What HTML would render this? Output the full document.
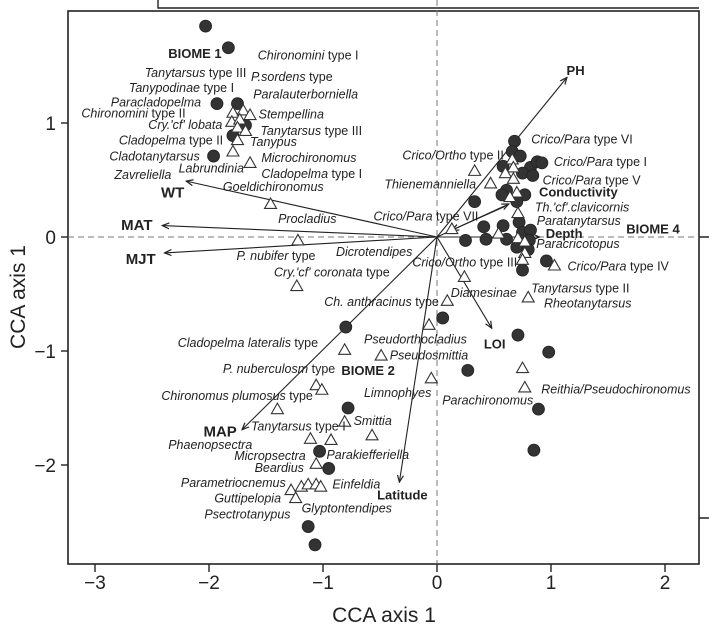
<!DOCTYPE html>
<html><head><meta charset="utf-8"><style>
body{margin:0;background:#fff}
svg{display:block;font-family:"Liberation Sans",sans-serif}
.lb{font-size:12.5px;fill:#222}
.bd{font-size:13px;font-weight:bold;fill:#222}
.tk{font-size:19px;fill:#222}
</style></head><body>
<svg id="c" width="709" height="630" viewBox="0 0 709 630">
<defs><marker id="ah" markerWidth="8" markerHeight="8" refX="7" refY="4" orient="auto" markerUnits="userSpaceOnUse"><path d="M0,1 L7,4 L0,7" fill="none" stroke="#222" stroke-width="1.2"/></marker></defs>
</svg>
<script>
const circX=[-2.03,-1.83,-1.93,-1.75,-1.68,-1.79,-1.96,0.68,0.66,0.73,0.82,0.88,0.92,0.58,0.75,0.84,0.61,0.57,0.77,0.70,0.33,0.41,0.58,0.25,0.43,0.61,0.72,0.75,0.82,0.81,0.70,0.80,0.75,0.96,0.05,-0.80,0.71,0.98,0.27,-0.78,0.89,0.85,-1.03,-0.95,-1.13,-1.07];
const circY=[1.85,1.66,1.17,1.17,0.98,0.89,0.71,0.84,0.75,0.71,0.61,0.66,0.65,0.62,0.56,0.54,0.41,0.37,0.37,0.31,0.31,0.09,0.10,-0.03,-0.02,-0.02,0.13,0.04,0.06,-0.03,-0.09,-0.11,-0.29,-0.21,-0.71,-0.79,-0.86,-1.01,-1.17,-1.50,-1.51,-1.87,-1.88,-2.03,-2.54,-2.70];
const triX=[-1.79,-1.70,-1.64,-1.80,-1.73,-1.75,-1.68,-1.75,-1.79,-1.64,-1.46,-1.22,-1.23,0.09,0.24,-0.07,-0.81,-0.49,-0.05,-1.06,-1.01,-1.40,-0.81,-0.57,-1.11,-0.93,-1.06,-1.28,-1.19,-1.13,-1.06,-1.02,-1.24,0.33,0.47,0.13,0.54,0.75,0.77,0.80,1.03,0.66,0.67,0.60,0.67,0.70,0.64,0.71,0.71,0.77,0.77,0.75];
const triY=[1.09,1.11,1.07,1.01,1.03,0.96,0.93,0.85,0.75,0.65,0.29,-0.03,-0.43,-0.56,-0.35,-0.77,-0.99,-1.04,-1.24,-1.30,-1.34,-1.51,-1.62,-1.74,-1.77,-1.78,-1.99,-2.22,-2.19,-2.17,-2.17,-2.19,-2.29,0.58,0.47,0.07,0.03,-1.15,-1.32,-0.53,-0.25,0.68,0.61,0.56,0.51,0.39,0.35,0.21,-0.01,-0.04,-0.14,-0.20];
const arrNames=["WT","MAT","MJT","PH","Conductivity","Depth","LOI","Latitude","MAP"];
const arrX=[-2.20,-2.41,-2.39,1.14,0.63,0.90,0.48,-0.33,-1.71];
const arrY=[0.49,0.10,-0.14,1.40,0.29,0.0,-0.80,-2.15,-1.69];
const xTicks=[-3,-2,-1,0,1,2];
const yTicks=[1,0,-1,-2];
const X0=437,Y0=237,U=114;
const sx=v=>X0+v*U, sy=v=>Y0-v*U;
const svg=document.getElementById('c'),NS="http://www.w3.org/2000/svg";
function mk(t,a,p){const e=document.createElementNS(NS,t);for(const k in a)e.setAttribute(k,a[k]);(p||svg).appendChild(e);return e;}
let e;
e=mk('rect',{x:68,y:11,width:631,height:553,fill:'none',stroke:'#222','stroke-width':1.6});


e=mk('path',{d:'M158,0 V8 H699 M699,237 H709 M699,518 H709',fill:'none',stroke:'#222','stroke-width':1.4});


e=mk('line',{x1:sx(0),y1:0,x2:sx(0),y2:564,stroke:'#777','stroke-dasharray':'6,4','stroke-width':1});


e=mk('line',{x1:68,y1:sy(0),x2:699,y2:sy(0),stroke:'#777','stroke-dasharray':'6,4','stroke-width':1});


xTicks.forEach(v=>{
 e=mk('line',{x1:sx(v),y1:564,x2:sx(v),y2:572,stroke:'#222','stroke-width':1.4});
 
 
 e=mk('text',{x:sx(v),y:589,'text-anchor':'middle',class:'tk'});e.textContent=(v<0?'\u2212'+(-v):''+v);
 
 
});
yTicks.forEach(v=>{
 e=mk('line',{x1:61,y1:sy(v),x2:68,y2:sy(v),stroke:'#222','stroke-width':1.4});
 
 
 e=mk('text',{x:56,y:sy(v)+7,'text-anchor':'end',class:'tk'});e.textContent=(v<0?'\u2212'+(-v):''+v);
 
 
});
e=mk('text',{x:384,y:622,'text-anchor':'middle',style:'font-size:21px;fill:#222'});e.textContent='CCA axis 1';


e=mk('text',{x:0,y:0,'text-anchor':'middle',transform:'translate(25,297) rotate(-90)',style:'font-size:21px;fill:#222'});e.textContent='CCA axis 1';


arrNames.forEach((n,i)=>{
 e=mk('line',{x1:sx(0),y1:sy(0),x2:sx(arrX[i]),y2:sy(arrY[i]),stroke:'#222','stroke-width':1.1,'marker-end':'url(#ah)'});
 
 
});
e=mk('line',{x1:sx(0.60),y1:sy(0.27),x2:sx(0.13),y2:sy(0.06),stroke:'#222','stroke-width':1.1,'marker-end':'url(#ah)'});


circX.forEach((v,i)=>{
 e=mk('circle',{cx:sx(v),cy:sy(circY[i]),r:6,fill:'#333',stroke:'#222','stroke-width':0.8});
 
 
});
triX.forEach((v,i)=>{
 const x=sx(v),y=sy(triY[i]);
 e=mk('polygon',{points:`${x},${y-6} ${x-6},${y+4.5} ${x+6},${y+4.5}`,fill:'#fff',stroke:'#333','stroke-width':1.1});
 
 
});
const labels=[
["BIOME 1","",372,133,1],["PH","",1253,175,1],["Chironomini"," type I",570,137],["Tanytarsus"," type III",320,180],["P.sordens"," type",555,190],
["Tanypodinae"," type I",285,218],["Paralauterborniella","",560,234],["Paracladopelma","",245,254],["Chironomini"," type II",180,281],
["Stempellina","",572,283],["Cry.'cf' lobata","",328,310],["Tanytarsus"," type III",576,324],["Cladopelma"," type II",263,348],
["Tanypus","",553,352],["Cladotanytarsus","",242,388],["Microchironomus","",578,392],["Labrundinia","",395,418],
["Cladopelma"," type I",578,432],["Zavreliella","",253,434],["WT","",356,478,2],["Goeldichironomus","",493,464],
["Procladius","",615,543],["MAT","",268,558,2],["Crico/Para"," type VII",826,537],["Crico/Ortho"," type II",890,385],
["Thienemanniella","",850,458],["Crico/Para"," type VI",1175,346],["Crico/Para"," type I",1225,402],["Crico/Para"," type V",1200,448],
["Conductivity","",1192,477,1],["Th.'cf'.clavicornis","",1183,515],["Paratanytarsus","",1187,548],["BIOME 4","",1385,570,1],
["Depth","",1207,581,1],["Paracricotopus","",1186,606],["MJT","",278,643,2],["P. nubifer"," type",523,636],
["Dicrotendipes","",743,625],["Crico/Ortho"," type III",912,651],["Crico/Para"," type IV",1255,662],["Cry.'cf' coronata"," type",606,677],
["Tanytarsus"," type II",1175,716],["Diamesinae","",997,727],["Rheotanytarsus","",1203,753],["Ch. anthracinus"," type",717,750],
["Pseudorthocladius","",805,843],["Cladopelma lateralis"," type",393,852],["LOI","",1070,855,1],["Pseudosmittia","",862,883],
["P. nuberculosm"," type",493,917],["BIOME 2","",755,921,1],["Reithia/Pseudochironomus","",1197,968],["Chironomus plumosus"," type",357,983],
["Limnophyes","",805,976],["Parachironomus","",978,995],["Smittia","",782,1046],["Tanytarsus"," type I",555,1059],
["MAP","",450,1072,2],["Phaenopsectra","",372,1106],["Micropsectra","",518,1133],["Parakiefferiella","",722,1130],
["Beardius","",563,1163],["Parametriocnemus","",400,1200],["Einfeldia","",735,1204],["Latitude","",834,1231,1],
["Guttipelopia","",474,1238],["Glyptontendipes","",667,1264],["Psectrotanypus","",452,1278]
];
labels.forEach(l=>{
 const x=l[2]/2.2116,y=l[3]/2.487+4.5;
 if(l[4]){
  e=mk('text',{x:x,y:y+(l[4]==2?1:0),class:'bd',style:l[4]==2?'font-size:15px':''});e.textContent=l[0];
  
  
 } else {
  e=mk('text',{x:x,y:y,class:'lb'});
  
  
  const a=mk('tspan',{'font-style':'italic'},e);a.textContent=l[0];
  if(l[1]){const b=mk('tspan',{},e);b.textContent=l[1];}
 }
});
</script>
</body></html>
